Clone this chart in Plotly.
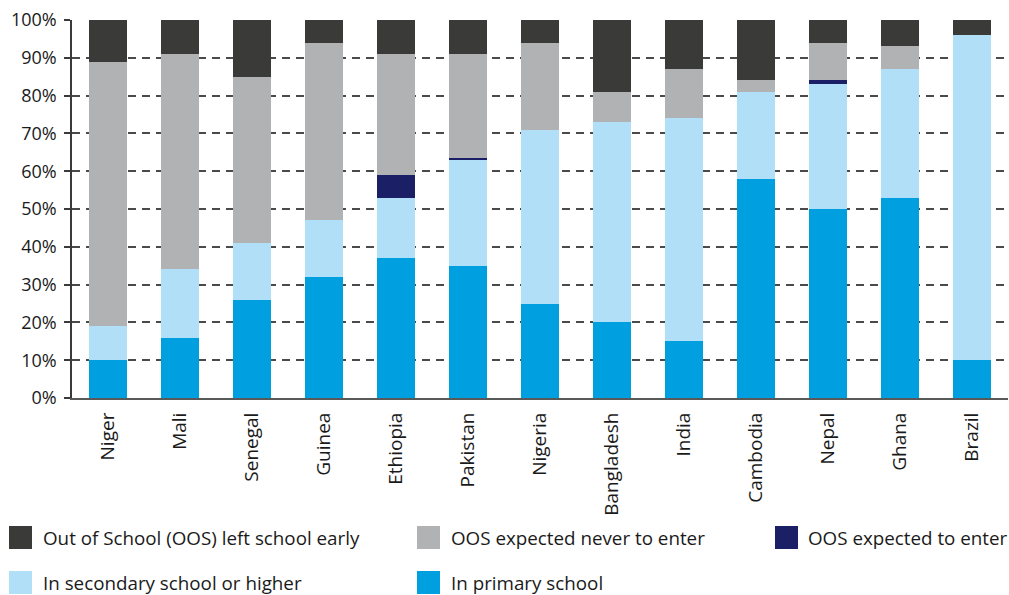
import plotly.graph_objects as go

categories = ["Niger", "Mali", "Senegal", "Guinea", "Ethiopia", "Pakistan", "Nigeria",
              "Bangladesh", "India", "Cambodia", "Nepal", "Ghana", "Brazil"]
primary = [10, 16, 26, 32, 37, 35, 25, 20, 15, 58, 50, 53, 10]
secondary = [9, 18, 15, 15, 16, 28, 46, 53, 59, 23, 33, 34, 86]
expected_to_enter = [0, 0, 0, 0, 6, 0.6, 0, 0, 0, 0, 1.1, 0, 0]
never_enter = [70, 57, 44, 47, 32, 27.4, 23, 8, 13, 3, 9.9, 6, 0]
left_early = [11, 9, 15, 6, 9, 9, 6, 19, 13, 16, 6, 7, 4]

series_names = ["In primary school", "In secondary school or higher", "OOS expected to enter",
                "OOS expected never to enter", "Out of School (OOS) left school early"]
series_values = [primary, secondary, expected_to_enter, never_enter, left_early]
series_colors = ["#009fe0", "#b0dff7", "#1b2066", "#b1b2b4", "#3a3a38"]

W, H = 1009, 595
ML, MR, MT, MB = 72, 1, 20, 197
PW, PH = W - ML - MR, H - MT - MB

def px_x(px):
    return (px - ML) / PW

def px_y(py):
    return (H - MB - py) / PH

FONT = "Open Sans"

fig = go.Figure()
for name, vals, col in zip(series_names, series_values, series_colors):
    fig.add_trace(go.Bar(x=categories, y=vals, name=name, marker_color=col,
                         marker_line_width=0, showlegend=False))

fig.update_layout(
    width=W, height=H, barmode="stack", bargap=0.47,
    margin=dict(l=ML, r=MR, t=MT, b=MB, autoexpand=False),
    paper_bgcolor="white", plot_bgcolor="white",
    font=dict(family=FONT, size=18, color="#1a1a1a"),
)
fig.update_yaxes(range=[0, 100], dtick=10, ticksuffix="%", showgrid=True,
                 gridcolor="#4a4a4a", gridwidth=1.5, griddash="8px,6px",
                 showline=True, linecolor="#3a3a3a", linewidth=1.5,
                 ticks="outside", ticklen=6, tickcolor="#3a3a3a", tickwidth=1.5,
                 zeroline=False, tickfont=dict(size=18), ticklabelstandoff=4)
fig.update_xaxes(showline=True, linecolor="#595959", linewidth=2, tickangle=-90,
                 ticks="", tickfont=dict(size=19), ticklabelstandoff=5)

# Legend drawn with large square swatches
legend_layout = [
    (4, 9, 41, 537.5),
    (3, 417, 449, 537.5),
    (2, 775, 806, 537.5),
    (1, 9, 41, 582.5),
    (0, 417, 449, 582.5),
]
for idx, sx, tx, cy in legend_layout:
    fig.add_shape(type="rect", xref="paper", yref="paper",
                  x0=px_x(sx), x1=px_x(sx + 23), y0=px_y(cy - 11.5), y1=px_y(cy + 11.5),
                  fillcolor=series_colors[idx], line_width=0)
    fig.add_annotation(xref="paper", yref="paper", x=px_x(tx), y=px_y(cy),
                       xanchor="left", yanchor="middle", showarrow=False,
                       text=series_names[idx], font=dict(size=18.8, family=FONT, color="#1a1a1a"))

fig.write_html("out.html", config={"displayModeBar": False},
               post_script="document.body.style.margin='0';")
